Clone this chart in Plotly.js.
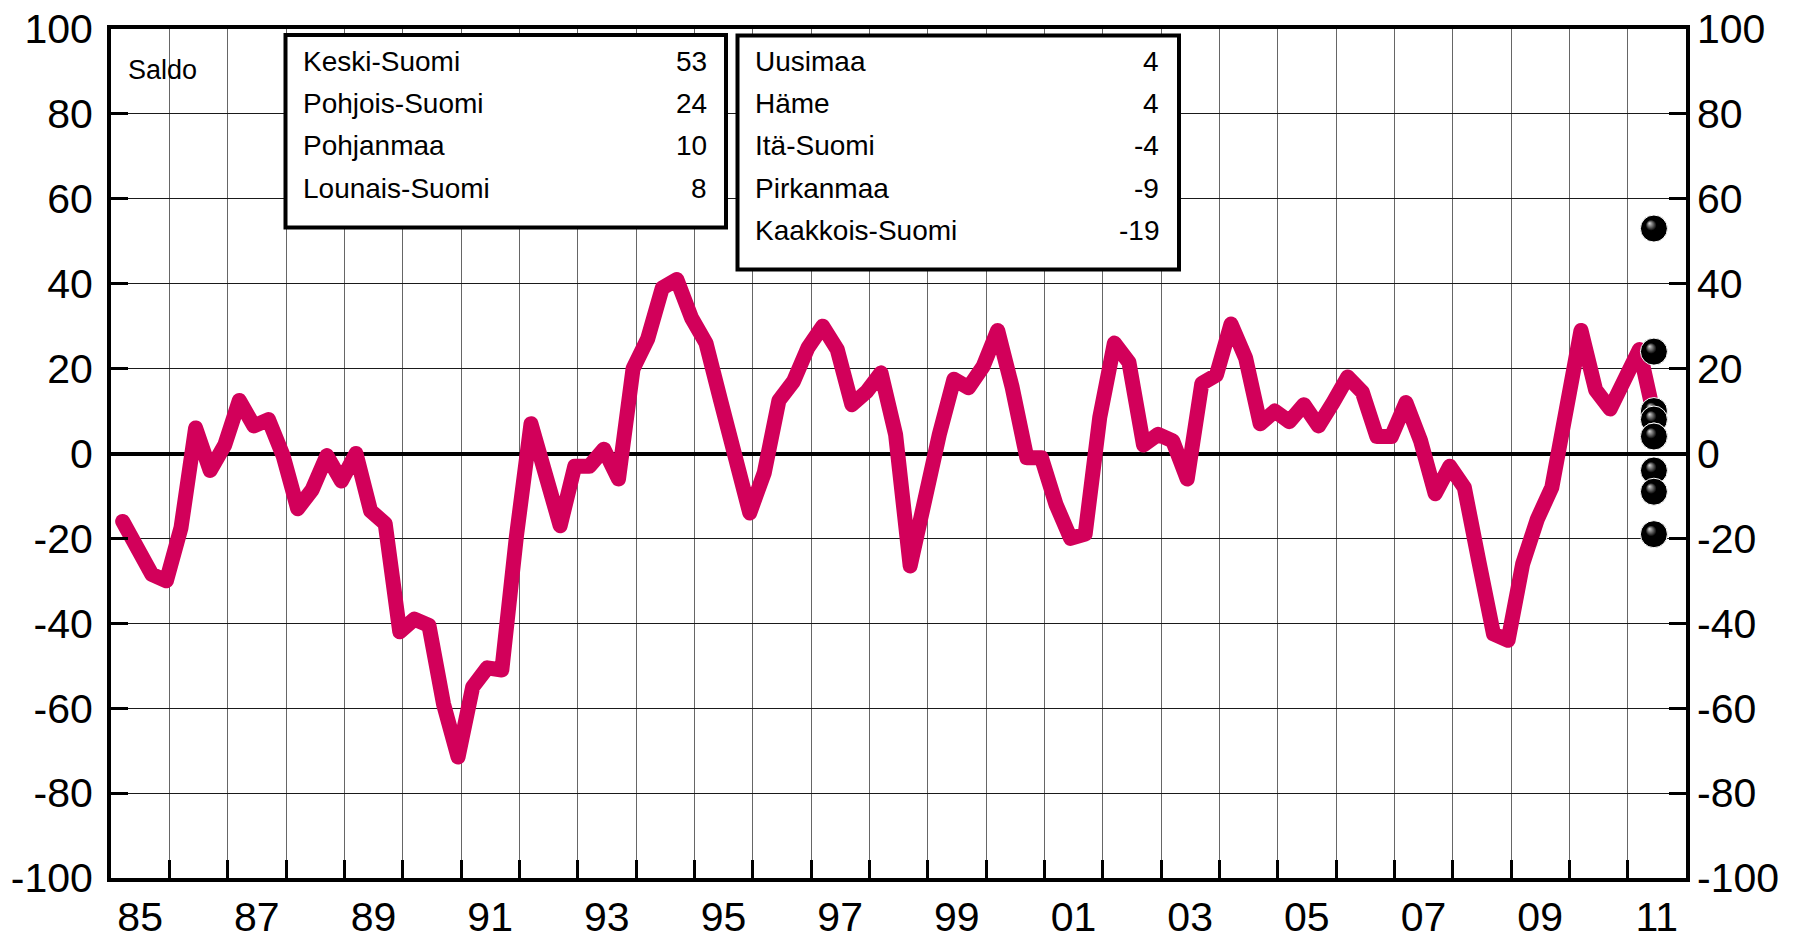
<!DOCTYPE html>
<html>
<head>
<meta charset="utf-8">
<script src="https://cdn.plot.ly/plotly-3.0.1.min.js"></script>
<style>
html, body { margin: 0; padding: 0; background: #ffffff; }
#chart { width: 1793px; height: 940px; }
.js-line { stroke-linejoin: round !important; stroke-linecap: round !important; }
</style>
</head>
<body>
<div id="chart"></div>
<script>
// ---------- DATA ----------
const startYear = 1985;   // first quarter = 1985 Q1, last = 2011 Q2
const saldo = [
  -16, -23, -28.5, -30,        // 1985
  -17.5, 6, -4, 2,             // 1986
  12.5, 6.5, 8, -0.5,          // 1987
  -13, -8.5, -0.5, -6.5,       // 1988
  0, -13.5, -16.5, -42,        // 1989
  -39, -40.5, -59, -71.5,      // 1990
  -55, -50.5, -51, -19.5,      // 1991
  7, -5, -17, -3,              // 1992
  -3, 1, -6, 20,               // 1993
  27, 39, 41, 32,              // 1994
  26, 12.5, -1, -14,           // 1995
  -4.5, 12.5, 17, 25,          // 1996
  30, 24.5, 11.5, 14.5,        // 1997
  19, 4.5, -26.5, -9,          // 1998
  4.5, 17.5, 15.5, 20.5,       // 1999
  29, 15.5, -1, -1,            // 2000
  -12, -20, -19, 8.5,          // 2001
  26, 21.5, 2, 4.5,            // 2002
  3, -6, 16.5, 18.5,           // 2003
  30.5, 22.5, 7, 10,           // 2004
  7.5, 11.5, 6.5, 12,          // 2005
  18, 14.5, 4, 4,              // 2006
  12, 3, -9.5, -3,             // 2007
  -8, -25.5, -42.5, -44,       // 2008
  -26, -15.5, -8, 10.5,        // 2009
  29, 15, 10.5, 17.5,          // 2010
  24.5, 9                      // 2011
];
const regionsLeft  = ['Keski-Suomi', 'Pohjois-Suomi', 'Pohjanmaa', 'Lounais-Suomi'];
const valuesLeft   = [53, 24, 10, 8];
const regionsRight = ['Uusimaa', 'Häme', 'Itä-Suomi', 'Pirkanmaa', 'Kaakkois-Suomi'];
const valuesRight  = [4, 4, -4, -9, -19];
const xTickLabels  = ['85', '87', '89', '91', '93', '95', '97', '99', '01', '03', '05', '07', '09', '11'];
const yTickVals    = [-100, -80, -60, -40, -20, 0, 20, 40, 60, 80, 100];
const yTickLabels  = ['-100', '-80', '-60', '-40', '-20', '0', '20', '40', '60', '80', '100'];
const yTitleText   = 'Saldo';

// ---------- derived ----------
const xQuarter = saldo.map((v, i) => startYear + Math.floor(i / 4) + 0.2 + 0.25 * (i % 4));
const yearLines = [];
for (let y = startYear + 1; y <= 2011; y++) yearLines.push(y);
const xLabelPos = xTickLabels.map((t, i) => startYear + 0.5 + 2 * i);
const lastX = xQuarter[xQuarter.length - 1];
const ballValues = valuesLeft.concat(valuesRight);
const ballNames = regionsLeft.concat(regionsRight);

// ---------- geometry (pixels) ----------
const PL = 111, PR = 1686, PT = 29, PB = 878;
const px = x => (x - PL) / (PR - PL);
const py = y => (PB - y) / (PB - PT);
const FONT = 'Liberation Sans, Arial, Helvetica, sans-serif';

const traces = [
  {
    x: xQuarter, y: saldo, type: 'scatter', mode: 'lines',
    line: { color: '#D2005A', width: 15 },
    hoverinfo: 'skip', showlegend: false
  },
  {
    x: ballValues.map(() => lastX), y: ballValues, text: ballNames,
    type: 'scatter', mode: 'markers', xaxis: 'x2', yaxis: 'y2',
    marker: { size: 27, color: '#000000', line: { color: '#ffffff', width: 1 },
              gradient: { type: 'radial', color: '#d8d8d8' } },
    hoverinfo: 'skip', showlegend: false
  }
];

const annotations = [];
annotations.push({ xref: 'paper', yref: 'paper', x: px(126), y: py(70), xanchor: 'left', yanchor: 'middle',
  text: yTitleText, showarrow: false, font: { family: FONT, size: 27, color: '#000' } });
const rowY = [61.5, 103.5, 145.5, 188, 230.5];
regionsLeft.forEach((r, i) => {
  annotations.push({ xref: 'paper', yref: 'paper', x: px(301), y: py(rowY[i]), xanchor: 'left', yanchor: 'middle',
    text: r, showarrow: false, font: { family: FONT, size: 28, color: '#000' } });
  annotations.push({ xref: 'paper', yref: 'paper', x: px(709), y: py(rowY[i]), xanchor: 'right', yanchor: 'middle',
    text: String(valuesLeft[i]), showarrow: false, font: { family: FONT, size: 28, color: '#000' } });
});
regionsRight.forEach((r, i) => {
  annotations.push({ xref: 'paper', yref: 'paper', x: px(753), y: py(rowY[i]), xanchor: 'left', yanchor: 'middle',
    text: r, showarrow: false, font: { family: FONT, size: 28, color: '#000' } });
  annotations.push({ xref: 'paper', yref: 'paper', x: px(1161), y: py(rowY[i]), xanchor: 'right', yanchor: 'middle',
    text: String(valuesRight[i]), showarrow: false, font: { family: FONT, size: 28, color: '#000' } });
});

const shapes = [
  { type: 'rect', xref: 'paper', yref: 'paper', x0: px(285.5), x1: px(726), y0: py(227.5), y1: py(35),
    fillcolor: '#ffffff', line: { color: '#000', width: 4 }, layer: 'above' },
  { type: 'rect', xref: 'paper', yref: 'paper', x0: px(737.5), x1: px(1179), y0: py(269.5), y1: py(35.5),
    fillcolor: '#ffffff', line: { color: '#000', width: 4 }, layer: 'above' }
];

const layout = {
  width: 1793, height: 940,
  margin: { l: PL, r: 1793 - PR, t: PT, b: 940 - PB, pad: 0 },
  paper_bgcolor: '#ffffff', plot_bgcolor: '#ffffff',
  font: { family: FONT, color: '#000' },
  showlegend: false, hovermode: false,
  xaxis: {
    range: [startYear, 2012], tickmode: 'array', tickvals: yearLines, showticklabels: false,
    ticks: 'inside', ticklen: 18, tickwidth: 3, tickcolor: '#000',
    showgrid: true, gridcolor: '#666666', gridwidth: 1, zeroline: false,
    showline: true, linecolor: '#000', linewidth: 4, mirror: true
  },
  xaxis2: {
    overlaying: 'x', anchor: 'y', side: 'bottom', range: [startYear, 2012],
    tickmode: 'array', tickvals: xLabelPos, ticktext: xTickLabels,
    ticks: '', showgrid: false, zeroline: false, showline: false,
    tickfont: { family: FONT, size: 41, color: '#000' }, ticklabelstandoff: 11
  },
  yaxis: {
    range: [-100, 100], tickmode: 'array', tickvals: yTickVals, ticktext: yTickLabels,
    ticks: 'inside', ticklen: 17, tickwidth: 3, tickcolor: '#000',
    showgrid: true, gridcolor: '#1a1a1a', gridwidth: 1,
    zeroline: true, zerolinecolor: '#000', zerolinewidth: 4,
    showline: true, linecolor: '#000', linewidth: 4, mirror: true,
    tickfont: { family: FONT, size: 41, color: '#000' }, ticklabelstandoff: 6
  },
  yaxis2: {
    overlaying: 'y', anchor: 'x', side: 'right', range: [-100, 100],
    tickmode: 'array', tickvals: yTickVals, ticktext: yTickLabels,
    ticks: 'inside', ticklen: 17, tickwidth: 3, tickcolor: '#000',
    showgrid: false, zeroline: false, showline: false,
    tickfont: { family: FONT, size: 41, color: '#000' }, ticklabelstandoff: 10
  },
  shapes: shapes,
  annotations: annotations
};

Plotly.newPlot('chart', traces, layout, { staticPlot: true, displayModeBar: false }).then(gd => {
  gd.querySelectorAll('radialGradient').forEach(g => {
    g.setAttribute('cx', '0.5'); g.setAttribute('cy', '0.5'); g.setAttribute('r', '0.5');
    g.setAttribute('fx', '0.33'); g.setAttribute('fy', '0.3');
    const stops = g.querySelectorAll('stop');
    if (stops.length >= 2) {
      const mid = stops[0].cloneNode();
      mid.setAttribute('offset', '40%');
      mid.setAttribute('stop-color', '#000000');
      mid.style.stopColor = '#000000';
      g.insertBefore(mid, stops[1]);
    }
  });
});
</script>
</body>
</html>
